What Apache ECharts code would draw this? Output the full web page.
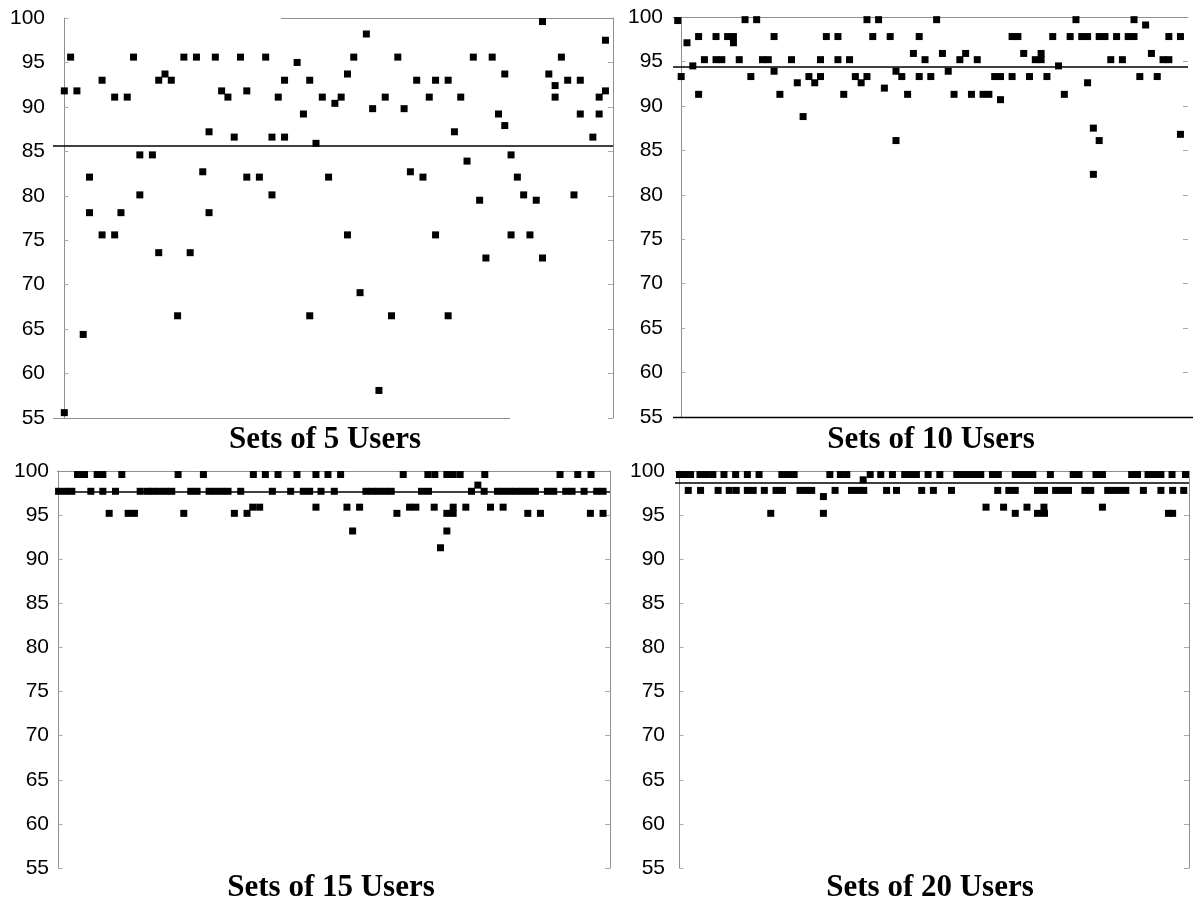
<!DOCTYPE html>
<html><head><meta charset="utf-8">
<script src="https://cdn.jsdelivr.net/npm/echarts@6/dist/echarts.min.js"></script>
<style>html,body{margin:0;padding:0;background:#fff}#c{width:1193px;height:902px}</style>
</head><body><div id="c"></div>
<script>
// ---------- data ----------
const titles = ['Sets of 5 Users', 'Sets of 10 Users', 'Sets of 15 Users', 'Sets of 20 Users'];
const yTicks = [55, 60, 65, 70, 75, 80, 85, 90, 95, 100];
const means = [85.6, 94.4, 97.6, 98.7];

// [set position, % of problems found]
const sets5 = [
 [0,91.8],[0,55.6],[1,95.6],[2,91.8],[3,64.4],[4,82.1],[4,78.1],[6,93.0],[6,75.6],[8,91.1],[8,75.6],[9,78.1],
 [10,91.1],[11,95.6],[12,84.6],[12,80.1],[14,84.6],[15,93.0],[15,73.6],[16,93.7],[17,93.0],[18,66.5],[19,95.6],
 [20,73.6],[21,95.6],[22,82.7],[23,87.2],[23,78.1],[24,95.6],[25,91.8],[26,91.1],[27,86.6],[28,95.6],[29,91.8],
 [29,82.1],[31,82.1],[32,95.6],[33,86.6],[33,80.1],[34,91.1],[35,93.0],[35,86.6],[37,95.0],[38,89.2],[39,93.0],
 [39,66.5],[40,85.9],[41,91.1],[42,82.1],[43,90.4],[44,91.1],[45,93.7],[45,75.6],[46,95.6],[47,69.1],[48,98.2],
 [49,89.8],[50,58.1],[51,91.1],[52,66.5],[53,95.6],[54,89.8],[55,82.7],[56,93.0],[57,82.1],[58,91.1],[59,93.0],
 [59,75.6],[61,93.0],[61,66.5],[62,87.2],[63,91.1],[64,83.9],[65,95.6],[66,79.5],[67,73.0],[68,95.6],[69,89.2],
 [70,93.7],[70,87.9],[71,84.6],[71,75.6],[72,82.1],[73,80.1],[74,75.6],[75,79.5],[76,99.6],[76,73.0],[77,93.7],
 [78,92.4],[78,91.1],[79,95.6],[80,93.0],[81,80.1],[82,93.0],[82,89.2],[84,86.6],[85,91.1],[85,89.2],[86,97.5],[86,91.8]
];
const sets10 = [
 [-0.6,99.6],[0,93.3],[1,97.1],[2,94.5],[3,97.8],[3,91.3],[4,95.2],[6,97.8],[6,95.2],[7,95.2],[8,97.8],[9,97.8],
 [9,97.1],[10,95.2],[11,99.7],[12,93.3],[13,99.7],[14,95.2],[15,95.2],[16,97.8],[16,93.9],[17,91.3],[19,95.2],
 [20,92.6],[21,88.8],[22,93.3],[23,92.6],[24,93.3],[24,95.2],[25,97.8],[27,97.8],[27,95.2],[28,91.3],[29,95.2],
 [30,93.3],[31,92.6],[32,93.3],[32,99.7],[33,97.8],[34,99.7],[35,92.0],[36,97.8],[37,93.9],[37,86.1],[38,93.3],
 [39,91.3],[40,95.9],[41,97.8],[41,93.3],[42,95.2],[43,93.3],[44,99.7],[45,95.9],[46,93.9],[47,91.3],[48,95.2],
 [49,95.9],[50,91.3],[51,95.2],[52,91.3],[53,91.3],[54,93.3],[55,93.3],[55,90.7],[57,93.3],[57,97.8],[58,97.8],
 [59,95.9],[60,93.3],[61,95.2],[62,95.2],[62,95.9],[63,93.3],[64,97.8],[65,94.5],[66,91.3],[67,97.8],[68,99.7],
 [69,97.8],[70,97.8],[70,92.6],[71,87.5],[71,82.3],[72,97.8],[72,86.1],[73,97.8],[74,95.2],[75,97.8],[76,95.2],
 [77,97.8],[78,97.8],[78,99.7],[79,93.3],[80,99.1],[81,95.9],[82,93.3],[83,95.2],[84,95.2],[84,97.8],[86,97.8],[86,86.8]
];
const sets15 = [
 [3.0,99.6],[4.1,99.6],[6.1,99.6],[7.0,99.6],[10.0,99.6],[18.9,99.6],[22.9,99.6],[30.8,99.6],[32.7,99.6],[34.7,99.6],
 [37.7,99.6],[40.7,99.6],[42.6,99.6],[44.6,99.6],[54.5,99.6],[58.4,99.6],[59.5,99.6],[61.4,99.6],[62.4,99.6],
 [63.5,99.6],[67.4,99.6],[79.3,99.6],[82.1,99.6],[84.2,99.6],
 [66.3,98.4],
 [0,97.7],[1.1,97.7],[2.1,97.7],[5.1,97.7],[7.0,97.7],[9.0,97.7],[12.9,97.7],[14.0,97.7],[14.9,97.7],[15.9,97.7],
 [16.9,97.7],[17.9,97.7],[20.9,97.7],[21.9,97.7],[23.8,97.7],[24.8,97.7],[25.8,97.7],[26.8,97.7],[28.8,97.7],
 [33.8,97.7],[36.7,97.7],[38.7,97.7],[39.7,97.7],[41.5,97.7],[43.6,97.7],[48.6,97.7],[49.6,97.7],[50.6,97.7],
 [51.6,97.7],[52.6,97.7],[57.4,97.7],[58.5,97.7],[65.3,97.7],[67.3,97.7],[69.4,97.7],[70.4,97.7],[71.4,97.7],
 [72.4,97.7],[73.4,97.7],[74.4,97.7],[75.4,97.7],[77.3,97.7],[78.3,97.7],[80.2,97.7],[81.2,97.7],[83.1,97.7],
 [85.1,97.7],[86.1,97.7],
 [30.7,95.9],[31.8,95.9],[40.7,95.9],[45.6,95.9],[47.6,95.9],[55.5,95.9],[56.5,95.9],[59.4,95.9],[62.4,95.9],
 [64.4,95.9],[68.3,95.9],[70.3,95.9],
 [8.0,95.2],[11.0,95.2],[12.0,95.2],[19.8,95.2],[27.8,95.2],[29.8,95.2],[53.5,95.2],[61.4,95.2],[62.4,95.2],
 [74.2,95.2],[76.2,95.2],[84.1,95.2],[86.1,95.2],
 [46.5,93.2],[61.4,93.2],[60.4,91.3]
];
const sets20 = [
 [0,99.6],[0.9,99.6],[1.9,99.6],[3.5,99.6],[4.6,99.6],[5.7,99.6],[7.6,99.6],[9.6,99.6],[11.6,99.6],[13.6,99.6],
 [17.5,99.6],[18.5,99.6],[19.6,99.6],[25.7,99.6],[27.5,99.6],[28.6,99.6],[32.6,99.6],[34.4,99.6],[36.4,99.6],
 [38.5,99.6],[39.6,99.6],[40.5,99.6],[42.5,99.6],[44.5,99.6],[47.4,99.6],[48.4,99.6],[49.4,99.6],[50.5,99.6],
 [51.5,99.6],[53.5,99.6],[54.5,99.6],[57.4,99.6],[58.4,99.6],[59.4,99.6],[60.4,99.6],[63.4,99.6],[67.3,99.6],
 [68.3,99.6],[71.2,99.6],[72.3,99.6],[77.3,99.6],[78.3,99.6],[80.1,99.6],[81.2,99.6],[82.3,99.6],[84.2,99.6],[86.5,99.6],
 [31.4,99.0],
 [1.5,97.8],[3.6,97.8],[6.6,97.8],[8.5,97.8],[9.7,97.8],[11.6,97.8],[12.6,97.8],[14.5,97.8],[16.5,97.8],[17.6,97.8],
 [20.6,97.8],[21.6,97.8],[22.6,97.8],[26.6,97.8],[29.4,97.8],[30.5,97.8],[31.5,97.8],[35.4,97.8],[37.1,97.8],
 [41.4,97.8],[43.4,97.8],[46.5,97.8],[54.4,97.8],[56.3,97.8],[57.4,97.8],[61.2,97.8],[62.4,97.8],[64.3,97.8],
 [65.4,97.8],[66.5,97.8],[69.3,97.8],[70.3,97.8],[73.2,97.8],[74.2,97.8],[75.2,97.8],[76.3,97.8],[79.3,97.8],
 [82.3,97.8],[84.3,97.8],[86.2,97.8],
 [24.6,97.1],
 [52.4,95.9],[55.4,95.9],[59.4,95.9],[62.3,95.9],[72.3,95.9],
 [15.6,95.2],[24.6,95.2],[57.4,95.2],[61.2,95.2],[62.4,95.2],[83.6,95.2],[84.3,95.2]
];

// ---------- layout / style ----------
const GRAY = '#8f8f8f';
const panels = [
  {data: sets5,  grid:{left:53,  top:18,  width:560, height:400}, xr:[-1.8, 87.2], lm:8,
   rightLine:true,  top:[0.407, 1, GRAY], bottom:[0, 0.816, GRAY], title:[325, 440]},
  {data: sets10, grid:{left:673, top:17,  width:515, height:400}, xr:[-1.41, 87.3], lm:10,
   rightLine:false, top:[0, 1, GRAY], bottom:[0, 1.01, '#000'], title:[931, 440]},
  {data: sets15, grid:{left:57,  top:471, width:553, height:397}, xr:[-0.25, 87.2], lm:8,
   rightLine:true,  top:[0, 1, GRAY], bottom:null, title:[331, 888]},
  {data: sets20, grid:{left:675, top:471, width:514, height:397}, xr:[-0.77, 87.1], lm:10,
   rightLine:true,  top:[0, 1, GRAY], bottom:null, title:[930, 888]}
];

const yMin = yTicks[0], yMax = yTicks[yTicks.length - 1], yStep = yTicks[1] - yTicks[0];

const yAxes = [], series = [], graphics = [];
panels.forEach((p, i) => {
  yAxes.push({
    type:'value', gridIndex:i, position:'left', min:yMin, max:yMax, interval:yStep,
    axisLine:{show:true, lineStyle:{color:GRAY, width:1}},
    axisTick:{show:true, inside:true, length:4, lineStyle:{color:'#aaa'}},
    axisLabel:{color:'#000', fontSize:21, fontFamily:'"Liberation Sans", Arial, sans-serif', margin:p.lm},
    splitLine:{show:false}
  });
  yAxes.push({
    type:'value', gridIndex:i, position:'right', min:yMin, max:yMax, interval:yStep,
    axisLine:{show:p.rightLine, lineStyle:{color:GRAY, width:1}},
    axisTick:{show:true, inside:true, length:5, lineStyle:{color:'#aaa'}},
    axisLabel:{show:false}, splitLine:{show:false}
  });
  series.push({
    type:'scatter', xAxisIndex:i, yAxisIndex:2*i, data:p.data,
    symbol:'rect', symbolSize:7, itemStyle:{color:'#000', opacity:1},
    markLine:{silent:true, symbol:'none', label:{show:false}, animation:false,
      lineStyle:{color:'#000', width:1.6, type:'solid'}, data:[{yAxis:means[i]}]}
  });
  const g = p.grid;
  const hl = (spec, y) => {
    if (!spec) return;
    graphics.push({type:'line', silent:true, z:1,
      shape:{x1:g.left + spec[0]*g.width, y1:y, x2:g.left + spec[1]*g.width, y2:y},
      style:{stroke:spec[2], lineWidth:spec[2] === '#000' ? 1.5 : 1.2}});
  };
  hl(p.top, g.top + 0.5);
  hl(p.bottom, g.top + g.height + 0.5);
  graphics.push({type:'text', x:p.title[0], y:p.title[1], silent:true,
    style:{text:titles[i], font:'bold 31px "Liberation Serif", "Times New Roman", serif',
      fill:'#000', textAlign:'center', textVerticalAlign:'middle'}});
});

const chart = echarts.init(document.getElementById('c'), null, {renderer:'canvas'});
chart.setOption({
  animation:false,
  backgroundColor:'#fff',
  grid: panels.map(p => Object.assign({containLabel:false}, p.grid)),
  xAxis: panels.map((p, i) => ({type:'value', gridIndex:i, min:p.xr[0], max:p.xr[1], show:false})),
  yAxis: yAxes,
  series: series,
  graphic: graphics
});
</script>
</body></html>
